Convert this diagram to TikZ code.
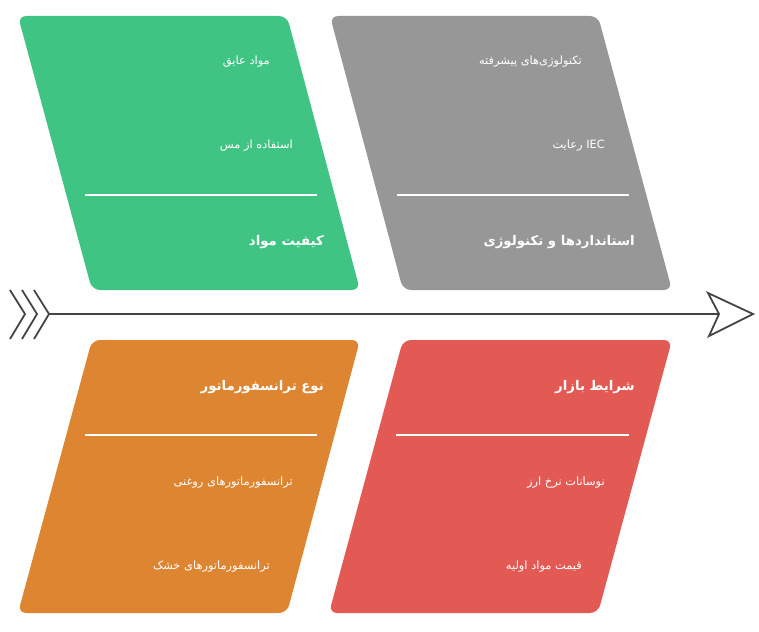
\documentclass[tikz,border=0pt]{standalone}
\usepackage{fontspec}
\newfontfamily\arabicfont[Script=Arabic]{DejaVu Sans}
\TeXXeTstate=1
\definecolor{boxgreen}{RGB}{63,196,132}
\definecolor{boxgray}{RGB}{151,151,151}
\definecolor{boxorange}{RGB}{221,133,49}
\definecolor{boxred}{RGB}{227,90,85}
\definecolor{spinegray}{RGB}{68,68,68}
\tikzset{
  fishbox/.style={rounded corners=8pt},
  itemlabel/.style={anchor=east, text=white, inner sep=0pt, font=\arabicfont\fontsize{11.4}{13}\selectfont},
  headlabel/.style={anchor=east, text=white, inner sep=0pt, font=\arabicfont\bfseries\fontsize{13.3}{16}\selectfont},
  divider/.style={white, line width=1.3pt},
  bone/.style={draw=spinegray, line width=1.8pt}
}

\begin{document}
\begin{tikzpicture}[x=1pt,y=-1pt]
        \useasboundingbox (0,0) rectangle (759,631);
        % upper boxes
        \fill[fishbox, boxgreen](18,16)--(287,16)--(360,290)--(92,290)--cycle;
        \fill[fishbox, boxgray](330,16)--(598,16)--(672,290)--(403,290)--cycle;
        % lower boxes
        \fill[fishbox, boxorange](92,340)--(360,340)--(287,613)--(18,613)--cycle;
        \fill[fishbox, boxred](403,340)--(672,340)--(598,613)--(329,613)--cycle;
        \draw[divider](85,195)--(317,195);
        \draw[divider](397,195)--(629,195);
        \draw[divider](85,435)--(317,435);
        \draw[divider](396,435)--(629,435);
        \node[itemlabel] (insulation) at (270,62){\beginR مواد عایق\endR};
        \node[itemlabel] (copper) at (293,146){\beginR استفاده از مس\endR};
        \node[headlabel] (quality) at (324,242){\beginR کیفیت مواد\endR};
        \node[itemlabel] (advtech) at (582,62){\beginR تکنولوژی‌های پیشرفته\endR};
        \node[itemlabel] (iec) at (605,146){\beginR\beginL IEC\endL{} رعایت\endR};
        \node[headlabel] (standards) at (635,242){\beginR استانداردها و تکنولوژی\endR};
        \node[headlabel] (trtype) at (324,387){\beginR نوع ترانسفورماتور\endR};
        \node[itemlabel] (oiltr) at (293,483){\beginR ترانسفورماتورهای روغنی\endR};
        \node[itemlabel] (drytr) at (270,567){\beginR ترانسفورماتورهای خشک\endR};
        \node[headlabel] (market) at (635,387){\beginR شرایط بازار\endR};
        \node[itemlabel] (exchange) at (605,483){\beginR نوسانات نرخ ارز\endR};
        \node[itemlabel] (rawprice) at (582,567){\beginR قیمت مواد اولیه\endR};
        % spine
        \coordinate (tail) at (49,314);
        \coordinate (notch) at (719,314);
        \foreach \dx in {0,12,24}
            \draw[bone](10+\dx,290)--(25+\dx,314)--(10+\dx,339);
        \draw[bone](tail)--(notch);
        \draw[bone, fill=white, line join=miter](708,293)--(753,314)--(709,336)--(notch)--cycle;
    \end{tikzpicture}
\end{document}
